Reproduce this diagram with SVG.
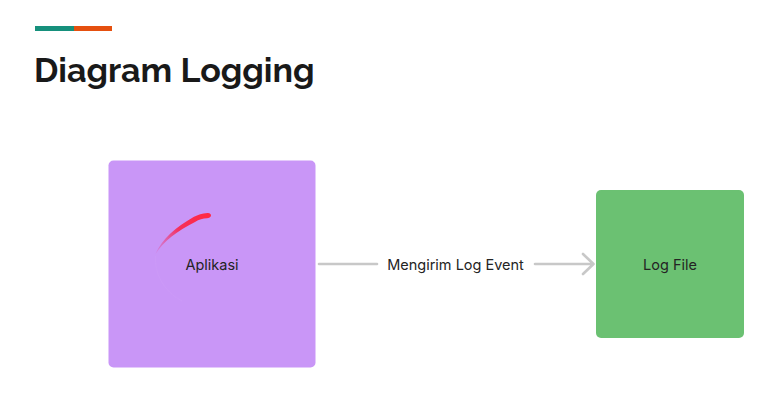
<svg xmlns="http://www.w3.org/2000/svg" width="777" height="417" viewBox="0 0 777 417">
<style>
.lbl{font-family:Inter,"Liberation Sans",sans-serif;font-size:14.5px;fill:#242424;text-anchor:middle}
.conn{fill:none;stroke:#c8c8c8;stroke-width:2.6;stroke-linecap:round;stroke-linejoin:round}
</style>
<defs>
<linearGradient id="tail" gradientUnits="userSpaceOnUse" x1="205" y1="216" x2="155" y2="256">
<stop offset="0" stop-color="#ff2a45"/>
<stop offset="0.45" stop-color="#f5305c"/>
<stop offset="1" stop-color="#e04fa0" stop-opacity="0.2"/>
</linearGradient>
</defs>
<rect width="777" height="417" fill="#ffffff"/>
<g id="header">
<rect x="35" y="26" width="39" height="5" fill="#16907c"/>
<rect x="74" y="26" width="38" height="5" fill="#e5500f"/>
<text x="34" y="81.500" font-family="Raleway,Lato,Inter,'Liberation Sans',sans-serif" font-size="34" font-weight="700" fill="#191919">Diagram Logging</text>
</g>
<g id="node-aplikasi">
<rect x="108.500" y="160.500" width="207" height="207" rx="5" fill="#c996f7"/>
<path d="M155.500 254C162 239 176 227 194 216.800C198 214.800 202 213.600 207.500 213C210 212.800 211.300 214.300 211 215.800C210.700 217.300 209 218.200 207 218.300C203 218.500 199 219.500 195 222C177 231 164 241 155.500 254Z" fill="url(#tail)"/>
<path d="M155.500 256C154.500 273 163 291 182 301" fill="none" stroke="#d0a0f7" stroke-width="0.8" opacity="0.45"/>
<text class="lbl" x="212" y="269.500">Aplikasi</text>
</g>
<g id="node-logfile">
<rect x="596" y="190" width="148" height="148" rx="5" fill="#6bc172"/>
<text class="lbl" x="670" y="269.500">Log File</text>
</g>
<g id="connectors">
<path class="conn" d="M319 264H377"/>
<path class="conn" d="M535 264H592.500M583 254L593.500 264L583 274"/>
<text class="lbl" x="455.500" y="269.500">Mengirim Log Event</text>
</g>
</svg>
